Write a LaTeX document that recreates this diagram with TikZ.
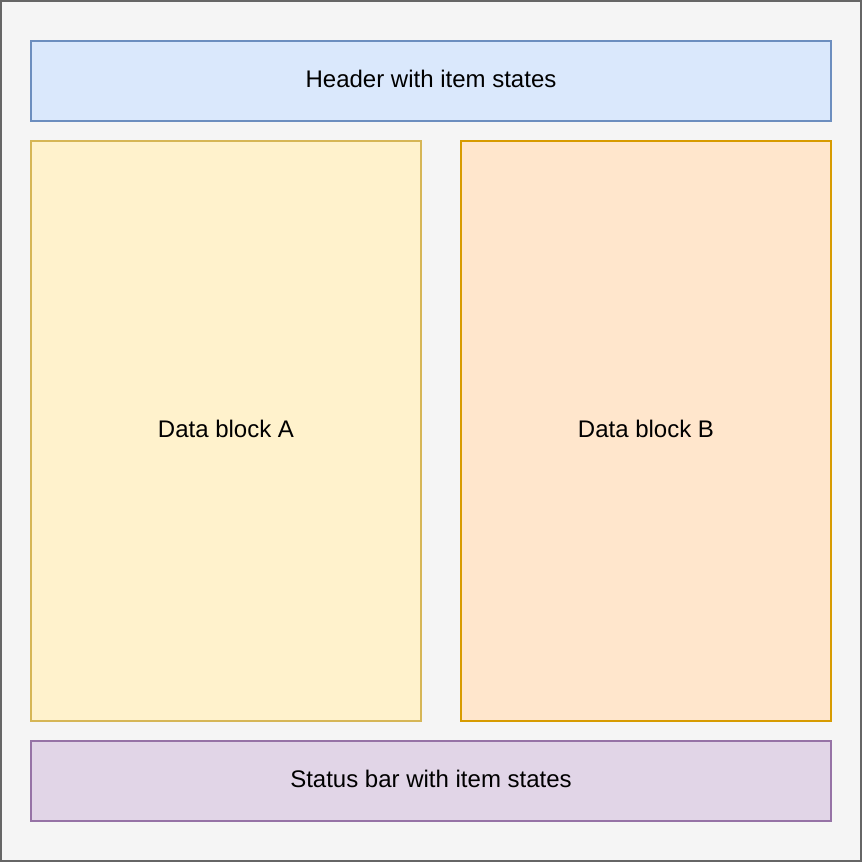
\documentclass[tikz,border=0pt]{standalone}
\usepackage{fontspec}
\setmainfont{Liberation Sans}
\definecolor{outerfill}{HTML}{F5F5F5}
\definecolor{outerdraw}{HTML}{666666}
\definecolor{bluefill}{HTML}{DAE8FC}
\definecolor{bluedraw}{HTML}{6C8EBF}
\definecolor{yelfill}{HTML}{FFF2CC}
\definecolor{yeldraw}{HTML}{D6B656}
\definecolor{orfill}{HTML}{FFE6CC}
\definecolor{ordraw}{HTML}{D79B00}
\definecolor{purfill}{HTML}{E1D5E7}
\definecolor{purdraw}{HTML}{9673A6}
\tikzset{
  panel/.style={draw, line width=1.3pt, inner sep=0pt, text=black},
  lbl/.style={font=\fontsize{24}{28}\selectfont, text=black},
}
\begin{document}
\begin{tikzpicture}[x=1pt,y=-1pt]
\useasboundingbox (0,0) rectangle (862,862);
\draw[fill=outerfill, draw=outerdraw, line width=1.3pt] (1,1) rectangle (861,861);
\node[panel, fill=bluefill, draw=bluedraw, minimum width=800pt, minimum height=80pt] (header) at (431,81) {};
\node[lbl] at ([yshift=2pt]header.center) {Header with item states};
\node[panel, fill=yelfill, draw=yeldraw, minimum width=390pt, minimum height=580pt] (blockA) at (226,431) {};
\node[lbl] at ([yshift=2pt]blockA.center) {Data block A};
\node[panel, fill=orfill, draw=ordraw, minimum width=370pt, minimum height=580pt] (blockB) at (646,431) {};
\node[lbl] at ([yshift=2pt]blockB.center) {Data block B};
\node[panel, fill=purfill, draw=purdraw, minimum width=800pt, minimum height=80pt] (status) at (431,781) {};
\node[lbl] at ([yshift=2pt]status.center) {Status bar with item states};
\end{tikzpicture}
\end{document}
